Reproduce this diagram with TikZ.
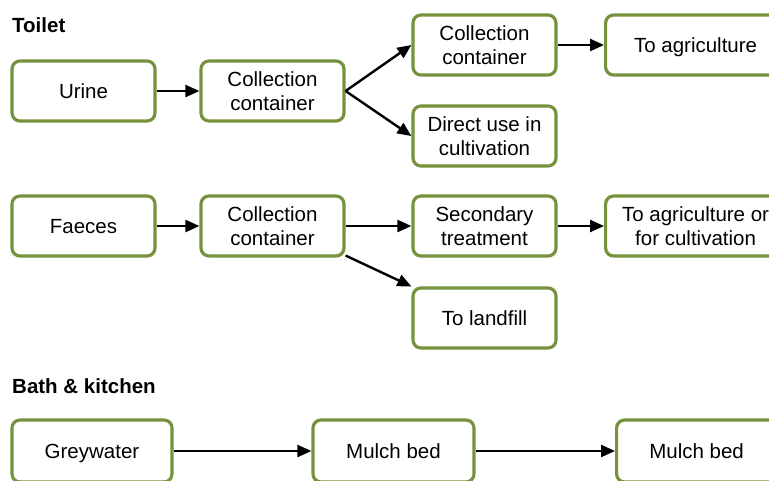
\documentclass[tikz,border=0pt]{standalone}
\usepackage{fontspec}
\setmainfont{Liberation Sans}
\usetikzlibrary{arrows.meta}
\definecolor{leafgreen}{RGB}{118,146,60}

\tikzset{
  stage/.style={draw=leafgreen, line width=3.2pt, rounded corners=8pt,
    minimum width=143pt, minimum height=60pt, inner sep=0pt, align=center,
    font=\fontsize{20.5}{24}\selectfont},
  oneline/.style={text height=15pt, text depth=0pt},
  heading/.style={anchor=west, inner sep=0pt,
    font=\bfseries\fontsize{20.5}{24}\selectfont},
}

\begin{document}
\begin{tikzpicture}[x=1pt, y=-1pt, >={Triangle[length=14pt,width=12pt]}]
  \useasboundingbox (0,0) rectangle (769,480);
  \clip (0,0) rectangle (769,480);

  % toilet: urine
  \node[heading] (Toilet) at (12,25) {Toilet};
  \node[stage, oneline] (Urine) at (83.5,91) {Urine};
  \node[stage] (UCont) at (272.5,91) {Collection\\container};
  \node[stage] (UCont2) at (484.5,45) {Collection\\container};
  \node[stage, oneline, minimum width=180pt, anchor=west] (UAgri) at (604,45) {To agriculture};
  \node[stage] (UDirect) at (484.5,136) {Direct use in\\cultivation};
  \draw[->, line width=2.4pt] (Urine) -- (UCont);
  \draw[->, line width=2.4pt] (UCont.east) -- (UCont2.west);
  \draw[->, line width=2.4pt] (UCont.east) -- (UDirect.west);
  \draw[->, line width=2.4pt] (UCont2) -- (UAgri);

  % toilet: faeces
  \node[stage, oneline] (Faeces) at (83.5,226) {Faeces};
  \node[stage] (FCont) at (272.5,226) {Collection\\container};
  \node[stage] (FSec) at (484.5,226) {Secondary\\treatment};
  \node[stage, minimum width=180pt, anchor=west] (FAgri) at (604,226) {To agriculture or\\for cultivation};
  \node[stage, oneline] (FLand) at (484.5,318) {To landfill};
  \draw[->, line width=2.4pt] (Faeces) -- (FCont);
  \draw[->, line width=2.4pt] (FCont) -- (FSec);
  \draw[->, line width=2.4pt] (FSec) -- (FAgri);
  \draw[->, line width=2.4pt] (FCont.-22) -- (FLand.north west);

  % bath and kitchen
  \node[heading] (Bath) at (12,386) {Bath \& kitchen};
  \node[stage, oneline, minimum width=160pt, minimum height=62pt] (Grey) at (92,451) {Greywater};
  \node[stage, oneline, minimum width=161pt, minimum height=62pt] (Mulch) at (393.5,451) {Mulch bed};
  \node[stage, oneline, minimum width=160pt, minimum height=62pt, anchor=west] (Mulch2) at (615,451) {Mulch bed};
  \draw[->, line width=2.4pt] (Grey) -- (Mulch);
  \draw[->, line width=2.4pt] (Mulch) -- (Mulch2);
\end{tikzpicture}
\end{document}
